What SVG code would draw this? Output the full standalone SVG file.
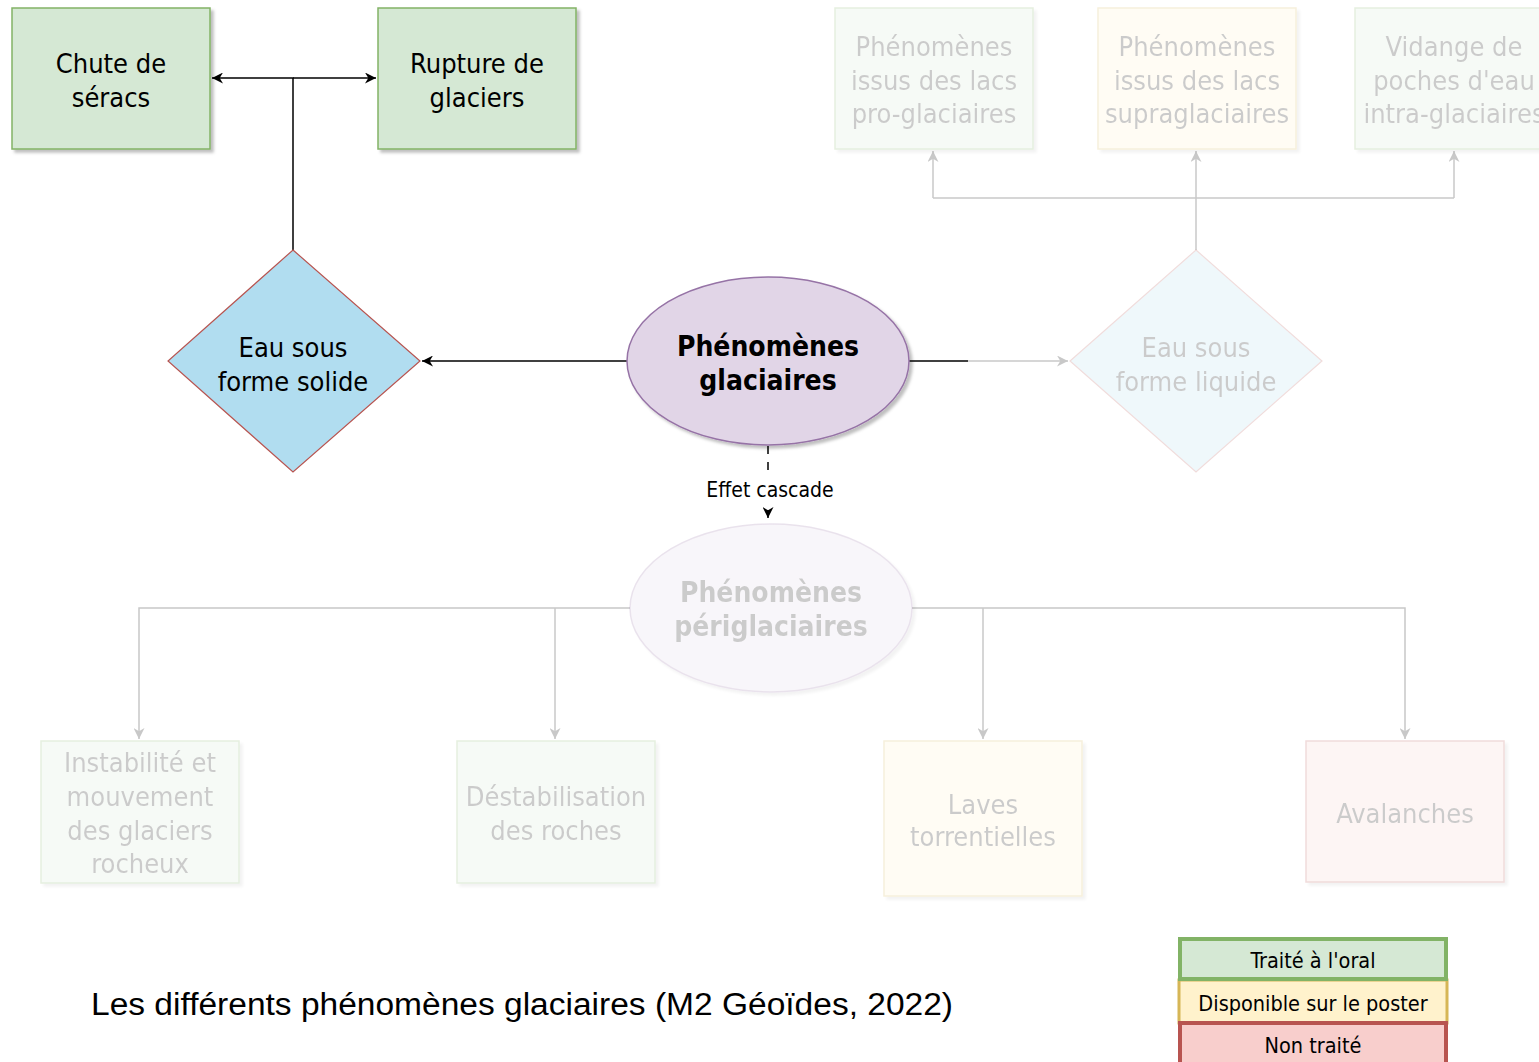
<svg xmlns="http://www.w3.org/2000/svg" width="1539" height="1062" viewBox="0 0 1539 1062">
<style>
text{font-family:"DejaVu Sans Condensed","DejaVu Sans",sans-serif;text-anchor:middle;font-size:27px;fill:#000}
.b{font-weight:bold;font-size:28px}
.g{fill:#d5e8d4;stroke:#82b366;stroke-width:1.5}
.y{fill:#fff2cc;stroke:#d6b656;stroke-width:1.5}
.r{fill:#f8cecc;stroke:#b85450;stroke-width:1.5}
.dia{fill:#b1ddf0;stroke:#b85450;stroke-width:1.2}
.ell{fill:#e1d5e7;stroke:#9673a6;stroke-width:1.5}
.fade{opacity:0.2}
.c{fill:none;stroke:#000;stroke-width:1.5}
.cf{fill:none;stroke:#c8c8c8;stroke-width:1.5}
.lg{font-size:21.5px}
</style>
<defs>
<filter id="sh" x="-10%" y="-10%" width="130%" height="130%">
<feDropShadow dx="3" dy="3" stdDeviation="1.5" flood-color="#000" flood-opacity="0.25"/>
</filter>
<marker id="a" viewBox="0 0 10 10" refX="10" refY="5" markerWidth="11" markerHeight="11" markerUnits="userSpaceOnUse" orient="auto">
<path d="M0,0 L10,5 L0,10 L3,5 z" fill="#000"/>
</marker>
<marker id="af" viewBox="0 0 10 10" refX="10" refY="5" markerWidth="11" markerHeight="11" markerUnits="userSpaceOnUse" orient="auto">
<path d="M0,0 L10,5 L0,10 L3,5 z" fill="#c8c8c8"/>
</marker>
</defs>
<rect width="1539" height="1062" fill="#fff"/>

<g id="connectors">
<path class="c" d="M293,250 V78 H212" marker-end="url(#a)"/>
<path class="c" d="M293,78 H376" marker-end="url(#a)"/>
<path class="c" d="M627,361 H422" marker-end="url(#a)"/>
<path class="c" d="M909,361 H968"/>
<path class="cf" d="M968,361 H1068" marker-end="url(#af)"/>
<path class="cf" d="M1196,250 V151" marker-end="url(#af)"/>
<path class="cf" d="M933,198 H1454"/>
<path class="cf" d="M933,198 V151" marker-end="url(#af)"/>
<path class="cf" d="M1454,198 V151" marker-end="url(#af)"/>
<path class="cf" d="M630,608 H139 V739" marker-end="url(#af)"/>
<path class="cf" d="M555,608 V739" marker-end="url(#af)"/>
<path class="cf" d="M912,608 H1405 V739" marker-end="url(#af)"/>
<path class="cf" d="M983,608 V739" marker-end="url(#af)"/>
<path d="M768,446 V518" fill="none" stroke="#000" stroke-width="1.5" stroke-dasharray="8,8" marker-end="url(#a)"/>
<rect x="703" y="477" width="136" height="26" fill="#fff"/>
<text x="770" y="497" style="font-size:21px">Effet cascade</text>
</g>

<g id="chute">
<rect class="g" x="12" y="8" width="198" height="141" filter="url(#sh)"/>
<text x="111" y="73">Chute de</text>
<text x="111" y="107">séracs</text>
</g>
<g id="rupture">
<rect class="g" x="378" y="8" width="198" height="141" filter="url(#sh)"/>
<text x="477" y="73">Rupture de</text>
<text x="477" y="107">glaciers</text>
</g>
<g id="solide">
<path class="dia" d="M293,250 L420,361 L293,472 L168,361 Z"/>
<text x="293" y="357">Eau sous</text>
<text x="293" y="391">forme solide</text>
</g>
<g id="glaciaires">
<ellipse class="ell" cx="768" cy="361" rx="141" ry="84" filter="url(#sh)"/>
<text class="b" x="768" y="356">Phénomènes</text>
<text class="b" x="768" y="390">glaciaires</text>
</g>

<g id="liquide" class="fade">
<path class="dia" d="M1196,250 L1322,361 L1196,472 L1070,361 Z"/>
<text x="1196" y="357">Eau sous</text>
<text x="1196" y="391">forme liquide</text>
</g>
<g id="proglaciaires" class="fade">
<rect class="g" x="835" y="8" width="198" height="141" filter="url(#sh)"/>
<text x="934" y="56">Phénomènes</text>
<text x="934" y="90">issus des lacs</text>
<text x="934" y="123">pro-glaciaires</text>
</g>
<g id="supraglaciaires" class="fade">
<rect class="y" x="1098" y="8" width="198" height="141" filter="url(#sh)"/>
<text x="1197" y="56">Phénomènes</text>
<text x="1197" y="90">issus des lacs</text>
<text x="1197" y="123">supraglaciaires</text>
</g>
<g id="vidange" class="fade">
<rect class="g" x="1355" y="8" width="198" height="141" filter="url(#sh)"/>
<text x="1454" y="56">Vidange de</text>
<text x="1454" y="90">poches d'eau</text>
<text x="1454" y="123">intra-glaciaires</text>
</g>
<g id="periglaciaires" class="fade">
<ellipse class="ell" cx="771" cy="608" rx="141" ry="84" filter="url(#sh)"/>
<text class="b" x="771" y="602">Phénomènes</text>
<text class="b" x="771" y="636">périglaciaires</text>
</g>
<g id="instabilite" class="fade">
<rect class="g" x="41" y="741" width="198" height="142" filter="url(#sh)"/>
<text x="140" y="772">Instabilité et</text>
<text x="140" y="806">mouvement</text>
<text x="140" y="840">des glaciers</text>
<text x="140" y="873">rocheux</text>
</g>
<g id="destabilisation" class="fade">
<rect class="g" x="457" y="741" width="198" height="142" filter="url(#sh)"/>
<text x="556" y="806">Déstabilisation</text>
<text x="556" y="840">des roches</text>
</g>
<g id="laves" class="fade">
<rect class="y" x="884" y="741" width="198" height="155" filter="url(#sh)"/>
<text x="983" y="814">Laves</text>
<text x="983" y="846">torrentielles</text>
</g>
<g id="avalanches" class="fade">
<rect class="r" x="1306" y="741" width="198" height="141" filter="url(#sh)"/>
<text x="1405" y="823">Avalanches</text>
</g>

<g id="caption">
<text x="91" y="1015" textLength="862" lengthAdjust="spacingAndGlyphs" style="font-family:'Liberation Sans',Arial,sans-serif;font-size:31px;text-anchor:start">Les différents phénomènes glaciaires (M2 Géoïdes, 2022)</text>
</g>

<g id="legend">
<rect x="1179" y="980" width="268" height="43" fill="#fff2cc" stroke="#d6b656" stroke-width="3"/>
<rect x="1180" y="939" width="266" height="40" fill="#d5e8d4" stroke="#82b366" stroke-width="4"/>
<rect x="1180" y="1023" width="266" height="42" fill="#f8cecc" stroke="#b85450" stroke-width="4"/>
<text class="lg" x="1313" y="968">Traité à l'oral</text>
<text class="lg" x="1313" y="1011">Disponible sur le poster</text>
<text class="lg" x="1313" y="1053">Non traité</text>
</g>
</svg>
